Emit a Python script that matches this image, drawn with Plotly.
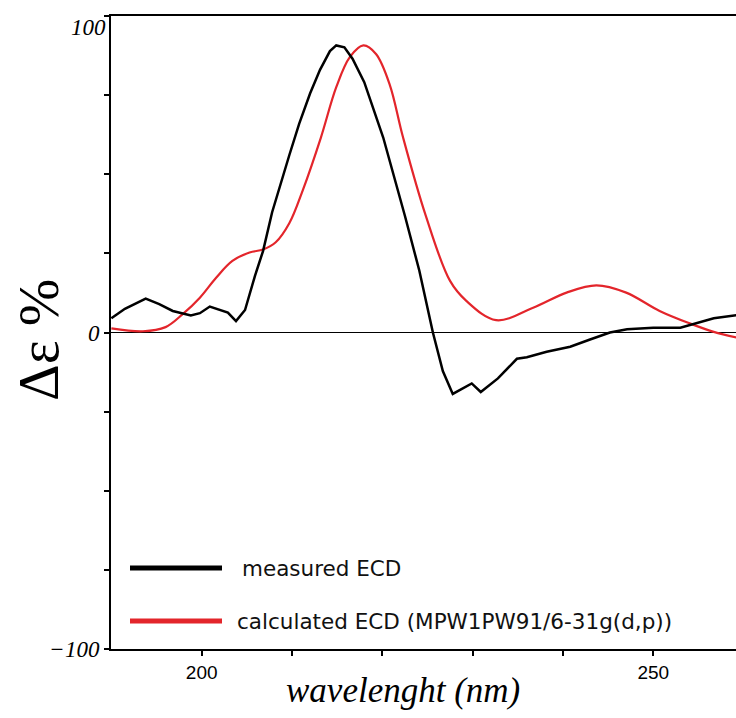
import plotly.graph_objects as go

# measured ECD (black)
meas_x = [190.0, 191.5, 193.8, 195.3, 196.8, 198.8, 199.8, 200.9, 202.9, 203.8, 204.8, 205.9, 206.8,
          207.8, 209.7, 210.8, 212.0, 213.1, 214.2, 214.9, 215.8, 216.7, 218.0, 220.1, 222.5, 224.1,
          225.6, 225.9, 226.7, 227.8, 229.9, 230.9, 232.8, 234.9, 236.0, 238.2, 240.8, 243.0, 245.2,
          247.1, 250.0, 253.0, 254.4, 256.7, 259.2]
meas_y = [4.5, 7.5, 10.7, 9.0, 6.8, 5.4, 6.1, 8.2, 6.3, 3.6, 7.1, 17.9, 25.8,
          38.0, 56.0, 66.0, 75.5, 83.0, 88.9, 90.7, 90.1, 86.5, 79.1, 61.6, 36.9, 19.5,
          0.0, -3.2, -12.2, -19.4, -16.1, -18.8, -14.5, -8.3, -7.8, -6.1, -4.5, -2.2, 0.0,
          1.0, 1.5, 1.5, 2.6, 4.5, 5.5]

# calculated ECD (red)
calc_x = [190.0, 193.5, 196.0, 197.9, 199.8, 201.6, 203.4, 205.3, 206.8, 208.2, 209.7, 211.2, 213.2,
          214.9, 216.4, 217.9, 219.3, 220.8, 222.3, 224.8, 227.5, 229.3, 232.6, 236.7, 240.4, 243.7,
          247.0, 250.7, 254.1, 256.7, 259.2]
calc_y = [1.3, 0.4, 1.7, 5.8, 11.0, 17.3, 22.6, 25.3, 26.2, 28.5, 34.5, 45.0, 61.6,
          77.5, 87.0, 90.7, 88.0, 78.5, 61.6, 37.0, 16.3, 10.0, 3.9, 7.8, 12.6, 14.9,
          12.6, 6.8, 2.8, 0.2, -1.6]

series_names = ["measured ECD", "calculated ECD (MPW1PW91/6-31g(d,p))"]
series_colors = ["#000000", "#e3252b"]

x_tickvals = [200, 210, 220, 230, 240, 250]
x_ticktext = ["200", "", "", "", "", "250"]
y_tickvals = [-100, -75, -50, -25, 0, 25, 50, 75, 100]
y_ticktext = ["\u2212100", "", "", "", "0", "", "", "", "100"]
x_title = "wavelenght (nm)"
y_title = "\u0394\u03b5 %"

W, H = 736, 718
PL, PR, PT, PB = 111, 0, 16, 69   # plot-area margins
PW, PH = W - PL - PR, H - PT - PB


def px_to_paper_x(px):
    return (px - PL) / PW


def px_to_paper_y(py):
    return (H - PB - py) / PH


fig = go.Figure()
fig.add_trace(go.Scatter(x=calc_x, y=calc_y, mode="lines", name=series_names[1],
                         line=dict(color=series_colors[1], width=2.2, shape="spline", smoothing=1.0)))
fig.add_trace(go.Scatter(x=meas_x, y=meas_y, mode="lines", name=series_names[0],
                         line=dict(color=series_colors[0], width=2.5)))

# legend drawn manually
leg_py = [568, 621]
leg_tpx = [240, 235]
for i in range(2):
    fig.add_shape(type="line", xref="paper", yref="paper", x0=px_to_paper_x(130), x1=px_to_paper_x(222),
                  y0=px_to_paper_y(leg_py[i]), y1=px_to_paper_y(leg_py[i]),
                  line=dict(color=series_colors[i], width=5))
    fig.add_annotation(xref="paper", yref="paper", x=px_to_paper_x(leg_tpx[i]), y=px_to_paper_y(leg_py[i]),
                       text=series_names[i], showarrow=False, xanchor="left", yanchor="middle",
                       font=dict(family="DejaVu Sans", size=21.5, color="#111"))

# y tick labels (the top one sits a little below its tick, as in the original)
y_label_shift = {100: -11}
y_ticklabels_axis = [t if v not in y_label_shift else "" for v, t in zip(y_tickvals, y_ticktext)]
for v, t in zip(y_tickvals, y_ticktext):
    if v in y_label_shift and t:
        fig.add_annotation(xref="paper", yref="y", x=0, y=v, text="<i>" + t + "</i>",
                           showarrow=False, xanchor="right", yanchor="middle",
                           xshift=-3, yshift=y_label_shift[v],
                           font=dict(family="Liberation Serif", size=23, color="black"))

# axis titles
fig.add_annotation(xref="paper", yref="paper", x=px_to_paper_x(403), y=px_to_paper_y(690),
                   text="<i>" + x_title + "</i>", showarrow=False, xanchor="center", yanchor="middle",
                   font=dict(family="Liberation Serif", size=35, color="black"))
fig.add_annotation(xref="paper", yref="paper", x=px_to_paper_x(38), y=px_to_paper_y(340),
                   text=y_title, showarrow=False, xanchor="center", yanchor="middle", textangle=-90,
                   font=dict(family="Liberation Serif", size=57, color="black"))

fig.update_layout(
    width=W, height=H,
    margin=dict(l=PL, r=PR, t=PT, b=PB, pad=0),
    paper_bgcolor="white", plot_bgcolor="white",
    showlegend=False,
    xaxis=dict(range=[189.96, 259.16], tickvals=x_tickvals, ticktext=x_ticktext,
               ticks="outside", ticklen=5, tickwidth=1.5, tickcolor="black",
               showline=True, linecolor="black", linewidth=2, mirror=True,
               showgrid=False, zeroline=False, automargin=False,
               tickfont=dict(family="Liberation Sans", size=19, color="black")),
    yaxis=dict(range=[-100, 100], tickvals=y_tickvals,
               ticktext=["<i>" + t + "</i>" if t else "" for t in y_ticklabels_axis],
               ticks="outside", ticklen=5, tickwidth=1.5, tickcolor="black",
               showline=True, linecolor="black", linewidth=2, mirror=False,
               showgrid=False, zeroline=True, zerolinecolor="black", zerolinewidth=1,
               automargin=False,
               tickfont=dict(family="Liberation Serif", size=23, color="black")),
)

fig.write_html("out.html",
               config={"displayModeBar": False},
               post_script="document.body.style.margin='0px';"
                           "document.body.style.overflow='hidden';")
